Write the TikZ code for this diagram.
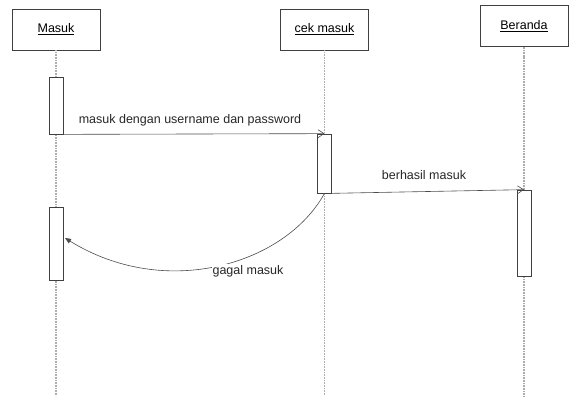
\documentclass[tikz,border=0pt]{standalone}
\usepackage{fontspec}
\setmainfont{Liberation Sans}
\usetikzlibrary{positioning, arrows.meta}
\tikzset{Objek style/.style={draw=black!75, line width=0.8pt, rectangle, minimum width=88pt, minimum height=41pt, inner sep=0pt, font=\fontsize{12.5}{14}\selectfont}}
\tikzset{Aktif style/.style={draw=black!75, fill=white, line width=0.7pt, rectangle, minimum width=14pt, inner sep=0pt}}
\tikzset{
	Garis hidup/.style={draw=gray!65, line width=1.4pt, dash pattern=on 1pt off 0.6pt}, % garis hidup tiap objek
	Pesan/.style={draw=black!70, line width=0.6pt, -{Straight Barb[length=6pt,width=8pt]}}, % pesan biasa
	Balik/.style={draw=black!70, line width=0.6pt, -{Triangle[length=6pt,width=5pt]}}, % pesan balik
	Label style/.style={font=\fontsize{12.5}{14}\selectfont, text=black!85, inner sep=1pt},
}

\begin{document}
\begin{tikzpicture}[x=1pt, y=-1pt]
        \useasboundingbox (0,0) rectangle (572,396);

        \node[Objek style] (masuk) at (56,29.5) {\underline{Masuk}};
        \node[Objek style] (cek) at (324.5,29.5) {\underline{cek masuk}};
        \node[Objek style] (beranda) at (524,26) {\underline{Beranda}};

        \coordinate (masuk end) at (56,396);
        \coordinate (cek end) at (324.5,396);
        \coordinate (beranda end) at (524,396);
        \draw[Garis hidup] (masuk) -- (masuk end);
        \draw[Garis hidup] (cek) -- (cek end);
        \draw[Garis hidup] (beranda) -- (beranda end);

        \node[Aktif style, minimum height=57pt] (masuk akt1) at (56,105.5) {};
        \node[Aktif style, minimum height=59pt] (cek akt) at (324.5,163.5) {};
        \node[Aktif style, minimum height=86pt] (beranda akt) at (524,233) {};
        \node[Aktif style, minimum height=73pt] (masuk akt2) at (56,243.5) {};

        \draw[Pesan] (masuk akt1.south east) -- (cek akt.north);
        \node[Label style] (pesan1) at (190,120) {masuk dengan username dan password};

        \draw[Pesan] (cek akt.south east) -- (beranda akt.north);
        \node[Label style] (pesan2) at (424,175) {berhasil masuk};

        \coordinate (gagal end) at (65,238);
        \draw[Balik] (cek akt.south) .. controls (285,265) and (165,300) .. (gagal end);
        \node[Label style, fill=white] (pesan3) at (248,271) {gagal masuk};
\end{tikzpicture}
\end{document}
